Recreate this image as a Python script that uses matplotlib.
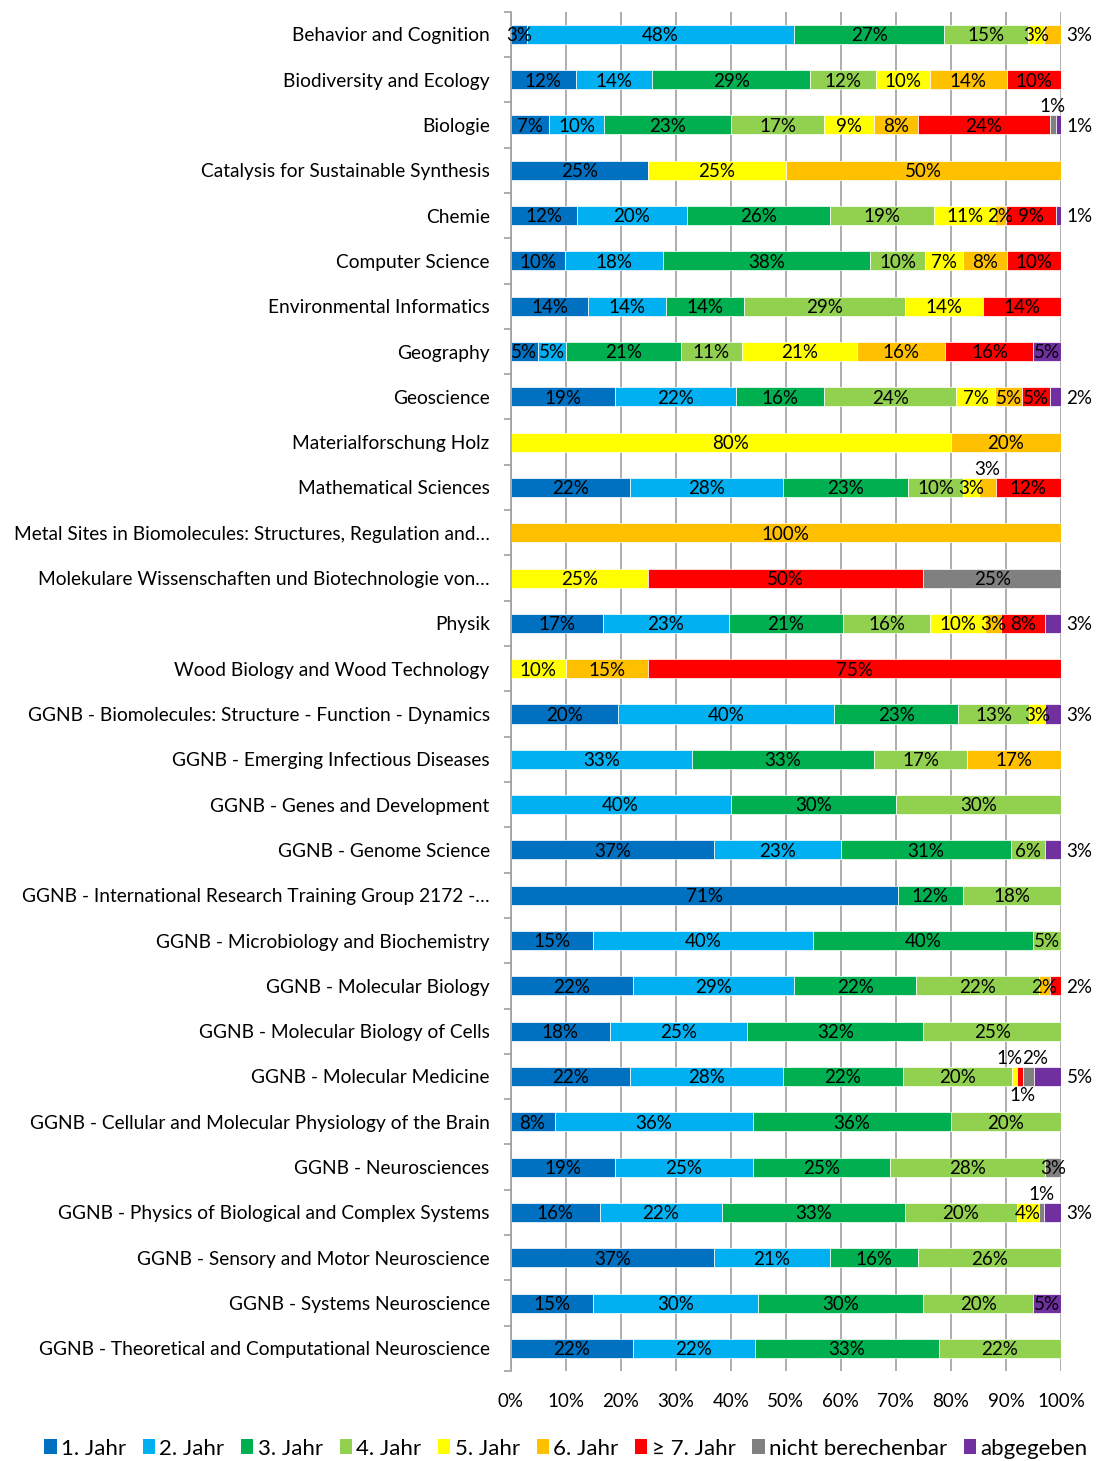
import numpy as np
import matplotlib
matplotlib.use("Agg")
import matplotlib.pyplot as plt
from matplotlib.patches import Patch

plt.rcParams['font.family'] = ['Lato', 'DejaVu Sans']

# ---- data (percent labels as shown in the chart) ----
categories = [
    "Behavior and Cognition",
    "Biodiversity and Ecology",
    "Biologie",
    "Catalysis for Sustainable Synthesis",
    "Chemie",
    "Computer Science",
    "Environmental Informatics",
    "Geography",
    "Geoscience",
    "Materialforschung Holz",
    "Mathematical Sciences",
    "Metal Sites in Biomolecules: Structures, Regulation and…",
    "Molekulare Wissenschaften und Biotechnologie von…",
    "Physik",
    "Wood Biology and Wood Technology",
    "GGNB - Biomolecules: Structure - Function - Dynamics",
    "GGNB - Emerging Infectious Diseases",
    "GGNB - Genes and Development",
    "GGNB - Genome Science",
    "GGNB - International Research Training Group 2172 -…",
    "GGNB - Microbiology and Biochemistry",
    "GGNB - Molecular Biology",
    "GGNB - Molecular Biology of Cells",
    "GGNB - Molecular Medicine",
    "GGNB - Cellular and Molecular Physiology of the Brain",
    "GGNB - Neurosciences",
    "GGNB - Physics of Biological and Complex Systems",
    "GGNB - Sensory and Motor Neuroscience",
    "GGNB - Systems Neuroscience",
    "GGNB - Theoretical and Computational Neuroscience",
]

jahr1 = [3, 12, 7, 25, 12, 10, 14, 5, 19, 0, 22, 0, 0, 17, 0, 20, 0, 0, 37, 71, 15, 22, 18, 22, 8, 19, 16, 37, 15, 22]
jahr2 = [48, 14, 10, 0, 20, 18, 14, 5, 22, 0, 28, 0, 0, 23, 0, 40, 33, 40, 23, 0, 40, 29, 25, 28, 36, 25, 22, 21, 30, 22]
jahr3 = [27, 29, 23, 0, 26, 38, 14, 21, 16, 0, 23, 0, 0, 21, 0, 23, 33, 30, 31, 12, 40, 22, 32, 22, 36, 25, 33, 16, 30, 33]
jahr4 = [15, 12, 17, 0, 19, 10, 29, 11, 24, 0, 10, 0, 0, 16, 0, 13, 17, 30, 6, 18, 5, 22, 25, 20, 20, 28, 20, 26, 20, 22]
jahr5 = [3, 10, 9, 25, 11, 7, 14, 21, 7, 80, 3, 0, 25, 10, 10, 3, 0, 0, 0, 0, 0, 0, 0, 1, 0, 0, 4, 0, 0, 0]
jahr6 = [3, 14, 8, 50, 2, 8, 0, 16, 5, 20, 3, 100, 0, 3, 15, 0, 17, 0, 0, 0, 0, 2, 0, 0, 0, 0, 0, 0, 0, 0]
jahr7 = [0, 10, 24, 0, 9, 10, 14, 16, 5, 0, 12, 0, 50, 8, 75, 0, 0, 0, 0, 0, 0, 2, 0, 1, 0, 0, 0, 0, 0, 0]
nicht_ber = [0, 0, 1, 0, 0, 0, 0, 0, 0, 0, 0, 0, 25, 0, 0, 0, 0, 0, 0, 0, 0, 0, 0, 2, 0, 3, 1, 0, 0, 0]
abgegeben = [0, 0, 1, 0, 1, 0, 0, 5, 2, 0, 0, 0, 0, 3, 0, 3, 0, 0, 3, 0, 0, 0, 0, 5, 0, 0, 3, 0, 5, 0]

series_names = ["1. Jahr", "2. Jahr", "3. Jahr", "4. Jahr", "5. Jahr", "6. Jahr",
                "≥ 7. Jahr", "nicht berechenbar", "abgegeben"]
series_vals = [jahr1, jahr2, jahr3, jahr4, jahr5, jahr6, jahr7, nicht_ber, abgegeben]
colors = ["#0070C0", "#00B0F0", "#00B050", "#92D050", "#FFFF00", "#FFC000",
          "#FF0000", "#808080", "#7030A0"]

# labels that Excel pushed outside the bar: (row, series) -> (where, x shift in pt)
label_pos = {
    (0, 5): ("right", 0), (2, 7): ("above", 0), (2, 8): ("right", 0),
    (4, 8): ("right", 0), (8, 8): ("right", 0), (10, 5): ("above", 0),
    (13, 8): ("right", 0), (15, 8): ("right", 0), (18, 8): ("right", 0),
    (21, 6): ("right", 0), (23, 4): ("above", -4), (23, 6): ("below", 2),
    (23, 7): ("above", 5), (23, 8): ("right", 0), (26, 7): ("above", 0),
    (26, 8): ("right", 0),
}

vals = np.array(series_vals, dtype=float)      # (9, 30)
shares = vals / vals.sum(axis=0) * 100

fs = 13.5
fig = plt.figure(figsize=(10.97, 14.61), dpi=100)
ax = fig.add_axes([0.4654, 0.0616, 0.5018, 0.9304])

y = np.arange(len(categories))
left = np.zeros(len(categories))
for i, name in enumerate(series_names):
    ax.barh(y, shares[i], left=left, height=0.42, color=colors[i],
            edgecolor="white", linewidth=0.5, label=name, zorder=2)
    for r in range(len(categories)):
        v = vals[i, r]
        if v <= 0:
            continue
        xc = left[r] + shares[i, r] / 2
        pos, dx = label_pos.get((r, i), ("in", 0))
        txt = f"{int(v)}%"
        if pos == "in":
            ax.text(xc, r + 0.03, txt, ha="center", va="center", fontsize=fs, zorder=3)
        elif pos == "right":
            ax.annotate(txt, (100, r), xytext=(4, -1), textcoords="offset points",
                        ha="left", va="center", fontsize=fs, annotation_clip=False)
        elif pos == "above":
            ax.annotate(txt, (xc, r), xytext=(dx, 13), textcoords="offset points",
                        ha="center", va="center", fontsize=fs)
        else:
            ax.annotate(txt, (xc, r), xytext=(dx, -14), textcoords="offset points",
                        ha="center", va="center", fontsize=fs)
    left += shares[i]

ax.set_xlim(0, 100)
ax.set_ylim(len(categories) - 0.5, -0.5)
ax.set_xticks(np.arange(0, 101, 10))
ax.set_xticklabels([f"{t}%" for t in range(0, 101, 10)], fontsize=fs)
ax.set_yticks(y)
ax.set_yticklabels(categories, fontsize=13.8)
ax.set_yticks(np.arange(-0.5, len(categories), 1), minor=True)
ax.tick_params(axis="y", which="major", length=0, pad=15)
ax.tick_params(axis="y", which="minor", length=5, color="#A0A0A0", width=1.2)
ax.tick_params(axis="x", length=0, pad=16)

ax.grid(axis="x", color="#A0A0A0", linewidth=1.2, zorder=0)
ax.set_axisbelow(True)
for s in ["top", "right", "bottom"]:
    ax.spines[s].set_visible(False)
ax.spines["left"].set_color("#A0A0A0")
ax.spines["left"].set_linewidth(1.2)

handles = [Patch(facecolor=c, label=n) for c, n in zip(colors, series_names)]
fig.legend(handles=handles, loc="center", bbox_to_anchor=(0.516, 0.0085), ncol=9,
           frameon=False, fontsize=16, handlelength=0.55, handleheight=0.65,
           handletextpad=0.2, columnspacing=0.75, borderaxespad=0)

fig.savefig("out.png", dpi=100)
